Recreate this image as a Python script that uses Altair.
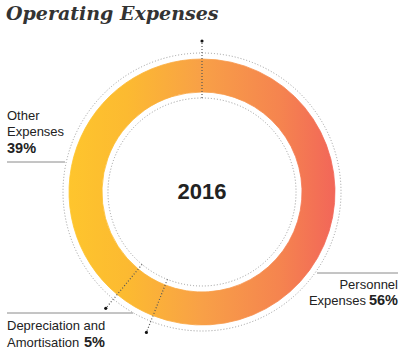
import math
import numpy as np
import pandas as pd
import altair as alt

# ---------------- data ----------------
categories = ["Personnel Expenses", "Depreciation and Amortisation", "Other Expenses"]
values = [56, 5, 39]
center_label = "2016"
title_text = "Operating Expenses"
label_lines = {
    "Other Expenses": ["Other", "Expenses"],
    "Personnel Expenses": ["Personnel", "Expenses"],
    "Depreciation and Amortisation": ["Depreciation and", "Amortisation"],
}

# ---------------- layout / style ----------------
W, H = 407, 353
CX, CY = 202, 192
R_OUT, R_IN = 133, 100
R_DOT_OUT, R_DOT_IN = 139, 94
R_LEAD = 151
FONT = "Liberation Sans"
TXT = "#222222"
GREY = "#8a8a8a"

grad = [(CX - R_OUT, "#FEC52D"), (CX - 75, "#FCBA31"), (CX, "#F8A047"),
        (CX + 78, "#F5844F"), (CX + R_OUT, "#F26659")]


def hex2rgb(h):
    h = h.lstrip("#")
    return [int(h[i:i + 2], 16) for i in (0, 2, 4)]


def color_at(x):
    if x <= grad[0][0]:
        return grad[0][1]
    if x >= grad[-1][0]:
        return grad[-1][1]
    for (x0, c0), (x1, c1) in zip(grad[:-1], grad[1:]):
        if x0 <= x <= x1:
            t = (x - x0) / (x1 - x0)
            a, b = hex2rgb(c0), hex2rgb(c1)
            return "#%02x%02x%02x" % tuple(round(a[i] + (b[i] - a[i]) * t) for i in range(3))
    return grad[-1][1]


total = sum(values)
start = 0.0
gradients = {}
boundaries = []
for cat, v in zip(categories, values):
    a0 = start / total * 2 * math.pi
    a1 = (start + v) / total * 2 * math.pi
    boundaries.append(a0)
    ang = np.linspace(a0, a1, 4000)
    xs = np.concatenate([CX + R_OUT * np.sin(ang), CX + R_IN * np.sin(ang)])
    xmin, xmax = float(xs.min()), float(xs.max())
    stops = [{"offset": 0, "color": color_at(xmin)}]
    for gx, gc in grad:
        if xmin < gx < xmax:
            stops.append({"offset": (gx - xmin) / (xmax - xmin), "color": gc})
    stops.append({"offset": 1, "color": color_at(xmax)})
    gradients[cat] = {"gradient": "linear", "x1": 0, "y1": 0, "x2": 1, "y2": 0, "stops": stops}
    start += v

seg_df = pd.DataFrame({"cat": categories, "value": values, "idx": list(range(len(values)))})

fill_cond = [{"test": f"datum.cat === '{c}'", "value": gradients[c]} for c in categories[:-1]]
fill_enc = alt.FillValue(value=gradients[categories[-1]], condition=fill_cond)
stroke_enc = alt.StrokeValue(value=gradients[categories[-1]], condition=fill_cond)

ring = alt.Chart(seg_df).mark_arc(strokeWidth=0.8).encode(
    theta=alt.Theta("value:Q", stack=True),
    order=alt.Order("idx:Q"),
    detail="cat:N",
    fill=fill_enc,
    stroke=stroke_enc,
    x=alt.value(CX), y=alt.value(CY),
    radius=alt.value(R_OUT), radius2=alt.value(R_IN),
)


def dotted_circle(r):
    return alt.Chart(pd.DataFrame({"k": [0]})).mark_arc(
        fill="transparent", stroke="#9a9a9a", strokeWidth=1, strokeDash=[1, 2]
    ).encode(
        theta=alt.value(0), theta2=alt.value(2 * math.pi),
        radius=alt.value(r),
        x=alt.value(CX), y=alt.value(CY),
    )


circles = [dotted_circle(R_DOT_OUT), dotted_circle(R_DOT_IN)]

rad_df = pd.DataFrame({
    "x1": [CX + R_DOT_IN * math.sin(a) for a in boundaries],
    "y1": [CY - R_DOT_IN * math.cos(a) for a in boundaries],
    "x2": [CX + R_LEAD * math.sin(a) for a in boundaries],
    "y2": [CY - R_LEAD * math.cos(a) for a in boundaries],
})
radials = alt.Chart(rad_df).mark_rule(stroke="#555555", strokeWidth=1.2, strokeDash=[1, 2]).encode(
    x=alt.X("x1:Q", scale=None), y=alt.Y("y1:Q", scale=None),
    x2="x2:Q", y2="y2:Q",
)
dots = alt.Chart(rad_df).mark_circle(color="#111111", size=10, opacity=1).encode(
    x=alt.X("x2:Q", scale=None), y=alt.Y("y2:Q", scale=None),
)

lead_df = pd.DataFrame({
    "x1": [7, 317, 7], "x2": [65, 398, 133], "y": [162, 273, 313],
})
leaders = alt.Chart(lead_df).mark_rule(stroke=GREY, strokeWidth=1).encode(
    x=alt.X("x1:Q", scale=None), x2="x2:Q", y=alt.Y("y:Q", scale=None),
)

pct = {c: f"{v}%" for c, v in zip(categories, values)}


def txt(rows, align, weight, size):
    df = pd.DataFrame(rows, columns=["t", "x", "y"])
    return alt.Chart(df).mark_text(align=align, baseline="alphabetic", font=FONT,
                                   fontWeight=weight, fontSize=size, color=TXT).encode(
        x=alt.X("x:Q", scale=None), y=alt.Y("y:Q", scale=None), text="t:N")


oth = label_lines["Other Expenses"]
per = label_lines["Personnel Expenses"]
dep = label_lines["Depreciation and Amortisation"]

normal_left = txt([(oth[0], 7, 120), (oth[1], 7, 136), (dep[0], 7, 330), (dep[1], 7, 347)],
                  "left", "normal", 13)
normal_right = txt([(per[0], 398, 289), (per[1], 366, 305)], "right", "normal", 13)
bold_left = txt([(pct["Other Expenses"], 7, 153), (pct["Depreciation and Amortisation"], 84, 347)],
                "left", "bold", 14.5)
bold_right = txt([(pct["Personnel Expenses"], 398, 305)], "right", "bold", 14.5)

center = alt.Chart(pd.DataFrame({"t": [center_label]})).mark_text(
    font=FONT, fontWeight="bold", fontSize=22, color=TXT, align="center", baseline="middle"
).encode(x=alt.value(CX), y=alt.value(CY), text="t:N")

title = alt.Chart(pd.DataFrame({"t": [title_text]})).mark_text(
    font="DejaVu Serif", fontWeight="bold", fontStyle="italic", fontSize=19, color="#333333",
    align="left", baseline="alphabetic"
).encode(x=alt.value(6), y=alt.value(20), text="t:N")

chart = alt.layer(
    *circles, ring, radials, dots, leaders,
    normal_left, normal_right, bold_left, bold_right, center, title
).properties(
    width=W, height=H, autosize=alt.AutoSizeParams(type="none"), padding=0
).configure_view(stroke=None)

chart.save("out.html", embed_options={"renderer": "svg", "actions": False})
